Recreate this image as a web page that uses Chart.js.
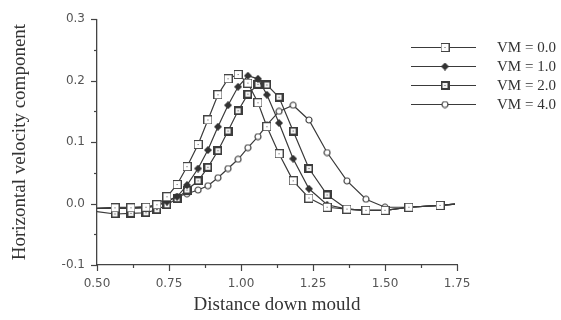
<!DOCTYPE html>
<html>
<head>
<meta charset="utf-8">
<script src="https://cdn.jsdelivr.net/npm/chart.js@4.4.1/dist/chart.umd.min.js"></script>
<style>
html,body{margin:0;padding:0;background:#fff;}
#wrap{width:561px;height:320px;position:relative;}
</style>
</head>
<body>
<div id="wrap"><canvas id="c" width="561" height="320"></canvas></div>
<script>
// Distance down mould (x positions of the nodes)
const distance = [0.5, 0.5625, 0.618, 0.670, 0.708, 0.743, 0.778, 0.8125, 0.851, 0.885, 0.920, 0.955, 0.990,
                  1.024, 1.059, 1.090, 1.132, 1.181, 1.236, 1.299, 1.368, 1.434, 1.500, 1.583, 1.691, 1.743];
// Horizontal velocity component for each VM
const vm0 = [-0.008, -0.007, -0.007, -0.006, -0.002, 0.011, 0.031, 0.060, 0.096, 0.136, 0.177, 0.203, 0.210,
             0.196, 0.164, 0.125, 0.081, 0.037, 0.009, -0.006, -0.009, -0.011, -0.011, -0.006, -0.003, -0.001];
const vm1 = [-0.008, -0.008, -0.008, -0.007, -0.004, 0.003, 0.011, 0.030, 0.057, 0.087, 0.125, 0.160, 0.190,
             0.208, 0.203, 0.177, 0.131, 0.073, 0.024, -0.002, -0.009, -0.011, -0.011, -0.006, -0.003, -0.001];
const vm2 = [-0.013, -0.017, -0.016, -0.015, -0.010, -0.002, 0.008, 0.022, 0.037, 0.059, 0.086, 0.118, 0.151,
             0.178, 0.194, 0.193, 0.173, 0.118, 0.057, 0.014, -0.009, -0.011, -0.011, -0.006, -0.003, -0.001];
const vm4 = [-0.008, -0.006, -0.006, -0.005, -0.003, 0.005, 0.011, 0.016, 0.022, 0.029, 0.042, 0.057, 0.072,
             0.091, 0.109, 0.128, 0.150, 0.160, 0.136, 0.083, 0.037, 0.007, -0.006, -0.006, -0.003, -0.001];
const seriesLabels = ['VM = 0.0', 'VM = 1.0', 'VM = 2.0', 'VM = 4.0'];
const xTickLabels = ['0.50', '0.75', '1.00', '1.25', '1.50', '1.75'];
const yTickLabels = ['-0.1', '0.0', '0.1', '0.2', '0.3'];

const LINE = '#3a3a3a';
function mk(size, draw){ const c=document.createElement('canvas'); c.width=c.height=size; draw(c.getContext('2d'), size); return c; }
const sq0 = mk(9, g => { g.fillStyle='#fff'; g.fillRect(0,0,9,9); g.strokeStyle='#444'; g.lineWidth=1; g.strokeRect(0.5,0.5,8,8); g.fillStyle='#555'; g.fillRect(4,4,1,1); });
const sq2 = mk(9, g => { g.fillStyle='#3c3c3c'; g.fillRect(0,0,9,9); g.fillStyle='#f2f2f2'; g.fillRect(2,2,5,5); g.fillStyle='#555'; g.fillRect(4,4,1,1); });
const dia1 = mk(8, g => { g.fillStyle='#333'; g.beginPath(); g.moveTo(4,0); g.lineTo(8,4); g.lineTo(4,8); g.lineTo(0,4); g.closePath(); g.fill(); });
const circ4 = mk(8, g => { g.fillStyle='#fff'; g.strokeStyle='#444'; g.lineWidth=1.2; g.beginPath(); g.arc(4,4,3,0,Math.PI*2); g.fill(); g.stroke(); });
const markers = [sq0, dia1, sq2, circ4];
const series = [vm0, vm1, vm2, vm4];

const hideEnds = ctx => (ctx.dataIndex === 0 || ctx.dataIndex === distance.length - 1) ? 0 : 4;

const datasets = series.map((s, i) => ({
  label: seriesLabels[i],
  data: distance.map((x, j) => ({x, y: s[j]})),
  borderColor: LINE,
  borderWidth: 1.2,
  pointStyle: markers[i],
  pointRadius: hideEnds,
  pointHoverRadius: hideEnds,
  tension: 0,
  fill: false
}));

const tickMarks = {
  id: 'tickMarks',
  afterDraw(chart){
    const {ctx, chartArea} = chart;
    const xs = chart.scales.x, ys = chart.scales.y;
    ctx.save();
    ctx.strokeStyle = '#444'; ctx.lineWidth = 1.2;
    for (let k = 0; k <= 10; k++) {
      const v = 0.5 + k * 0.125;
      const px = Math.round(xs.getPixelForValue(v)) + 0.5;
      const len = (k % 2 === 0) ? 6 : 3;
      ctx.beginPath(); ctx.moveTo(px, chartArea.bottom); ctx.lineTo(px, chartArea.bottom + len); ctx.stroke();
    }
    for (let k = 0; k <= 8; k++) {
      const v = -0.1 + k * 0.05;
      const py = Math.round(ys.getPixelForValue(v)) + 0.5;
      const len = (k % 2 === 0) ? 6 : 3;
      ctx.beginPath(); ctx.moveTo(chartArea.left, py); ctx.lineTo(chartArea.left - len, py); ctx.stroke();
    }
    ctx.restore();
  }
};

const legendPlugin = {
  id: 'customLegend',
  afterDraw(chart){
    const ctx = chart.ctx;
    const rows = [47, 66, 85, 104];
    ctx.save();
    seriesLabels.forEach((lab, i) => {
      const y = rows[i];
      ctx.strokeStyle = LINE; ctx.lineWidth = 1.2;
      ctx.beginPath(); ctx.moveTo(411, y + 0.5); ctx.lineTo(476, y + 0.5); ctx.stroke();
      const m = markers[i];
      ctx.drawImage(m, 445 - m.width/2, y + 0.5 - m.height/2);
      ctx.fillStyle = '#333';
      ctx.font = '15px "Liberation Serif"';
      ctx.textBaseline = 'middle';
      ctx.textAlign = 'left';
      ctx.fillText(lab, 497, y + 1);
    });
    ctx.restore();
  }
};

const tickFont = {family: '"DejaVu Sans"', size: 12};

new Chart(document.getElementById('c'), {
  type: 'line',
  data: { datasets },
  options: {
    responsive: false,
    animation: false,
    events: [],
    layout: { padding: { top: 17, right: 104, left: 0, bottom: 0 } },
    plugins: { legend: { display: false }, tooltip: { enabled: false } },
    scales: {
      x: {
        type: 'linear', min: 0.5, max: 1.75,
        afterFit: s => { s.height = 55; },
        grid: { display: false, drawTicks: false },
        border: { display: true, color: '#444', width: 1.3 },
        ticks: {
          stepSize: 0.125, padding: 12, color: '#555', font: tickFont, autoSkip: false, maxRotation: 0,
          callback: v => { const k = Math.round((v - 0.5) / 0.25 * 1000) / 1000; return Number.isInteger(k) ? xTickLabels[k] : ''; }
        },
        title: { display: true, text: 'Distance down mould', color: '#333',
                 font: {family: '"Liberation Serif"', size: 19}, padding: {top: 0, bottom: 4} }
      },
      y: {
        type: 'linear', min: -0.1, max: 0.3,
        afterFit: s => { s.width = 97; },
        grid: { display: false, drawTicks: false },
        border: { display: true, color: '#444', width: 1.3 },
        ticks: {
          stepSize: 0.05, padding: 12, color: '#555', font: tickFont, autoSkip: false,
          callback: v => { const k = Math.round((v + 0.1) / 0.1 * 1000) / 1000; return Number.isInteger(k) ? yTickLabels[k] : ''; }
        },
        title: { display: true, text: 'Horizontal velocity component', color: '#333',
                 font: {family: '"Liberation Serif"', size: 19}, padding: {top: 9, bottom: 0} }
      }
    }
  },
  plugins: [tickMarks, legendPlugin]
});
</script>
</body>
</html>
